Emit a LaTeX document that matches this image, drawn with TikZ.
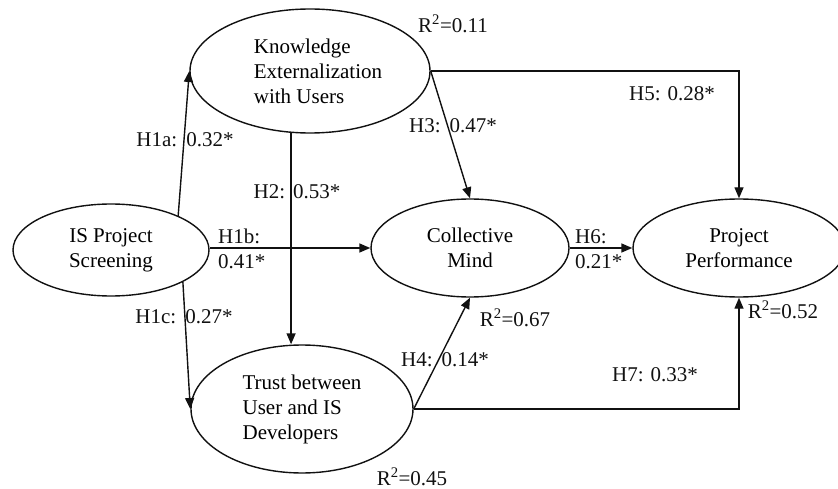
\documentclass[tikz,border=0pt]{standalone}
\usepackage{fontspec}
\setmainfont{Liberation Serif}
\usetikzlibrary{arrows.meta,positioning,shapes.geometric,calc}
\definecolor{ink}{HTML}{111111}
\tikzset{
  construct/.style={ellipse,draw=ink,line width=1.4pt,inner sep=0pt,align=center,font=\fontsize{21}{25}\selectfont},
  arrow/.style={-{Triangle[length=11pt,width=9pt]},line width=1.4pt,ink},
  coef/.style={font=\fontsize{21}{25}\selectfont,text=ink,inner sep=0pt,align=left},
  rsq/.style={font=\fontsize{21}{25}\selectfont,text=ink,inner sep=0pt}
}
\newcommand{\gapsp}{\hspace{9pt}}

\begin{document}
\begin{tikzpicture}[x=1pt,y=-1pt]
    \useasboundingbox (0,0) rectangle (838,489);
    % constructs
    \node[construct,minimum width=240pt,minimum height=124pt,align=left] (ke) at (310,71) {\hspace*{16pt}Knowledge\\\hspace*{16pt}Externalization\\\hspace*{16pt}with Users};
    \node[construct,minimum width=196pt,minimum height=92pt] (is) at (111,250) {IS Project\\Screening};
    \node[construct,minimum width=222pt,minimum height=128pt,align=left] (tr) at (302,409) {Trust between\\User and IS\\Developers};
    \node[construct,minimum width=198pt,minimum height=98pt] (cm) at (470,248) {Collective\\Mind};
    \node[construct,minimum width=212pt,minimum height=98pt] (pp) at (739,248) {Project\\Performance};
    % paths
    \draw[arrow] (is.27) -- (ke.west);
    \draw[arrow] (is.east |- cm.west) -- (cm.west);
    \draw[arrow] (is.-24) -- (tr.west);
    \draw[arrow] (ke.-107) -- (ke.-107 |- tr.north);
    \draw[arrow] (ke.east) -- (cm.north);
    \draw[arrow] (ke.east) -| (pp.north);
    \draw[arrow] (cm.east) -- (pp.west);
    \draw[arrow] (tr.east) -- (cm.south);
    \draw[arrow] (tr.east) -| (pp.south);
    % coefficients
    \node[coef] (h1a) at (185,140) {H1a:\gapsp0.32*};
    \node[coef,anchor=west] (h1b) at (218,249) {H1b:\\0.41*};
    \node[coef] (h1c) at (184,317) {H1c:\gapsp0.27*};
    \node[coef] (h2) at (297,192) {H2:\hspace{8pt}0.53*};
    \node[coef] (h3) at (453,126) {H3:\gapsp0.47*};
    \node[coef] (h4) at (445,360) {H4:\gapsp0.14*};
    \node[coef] (h5) at (672,94) {H5: 0.28*};
    \node[coef,anchor=west] (h6) at (575,249) {H6:\\0.21*};
    \node[coef] (h7) at (655,375) {H7: 0.33*};
    % explained variance
    \node[rsq] (r11) at (453,24) {R\textsuperscript{2}=0.11};
    \node[rsq] (r67) at (515,318) {R\textsuperscript{2}=0.67};
    \node[rsq] (r52) at (783,310) {R\textsuperscript{2}=0.52};
    \node[rsq] (r45) at (412,477) {R\textsuperscript{2}=0.45};
\end{tikzpicture}
\end{document}
